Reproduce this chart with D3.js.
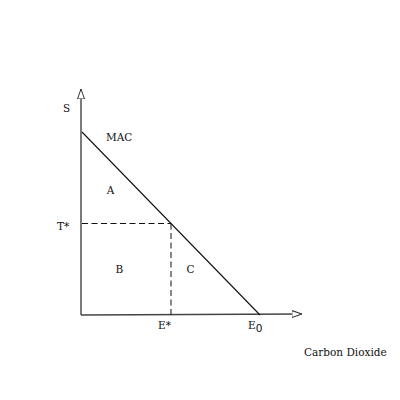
<!DOCTYPE html>
<html><head><meta charset="utf-8">
<script src="https://cdn.jsdelivr.net/npm/d3@7"></script>
<style>body{margin:0;background:#fff}text{font-family:"DejaVu Serif",serif;font-size:10.5px;fill:#111}</style>
</head><body><svg id="c" width="400" height="400"></svg>
<script>
const macPoints = [{q:0, s:100}, {q:100, s:0}];
const axisMax = 123.5;
const tStar = 50, eStar = 50, e0 = 100;
const axisLabels = {y:"S", x:"Carbon Dioxide", curve:"MAC"};
const areaLabels = [{t:"A", q:16, s:66}, {t:"B", q:21, s:23}, {t:"C", q:61, s:23}];

const svg = d3.select("#c");
const x = d3.scaleLinear().domain([0, 100]).range([82, 260]);
const y = d3.scaleLinear().domain([0, 100]).range([315, 132]);

const defs = svg.append("defs");
defs.append("marker").attr("id","arr").attr("viewBox","0 0 10 10").attr("refX",10).attr("refY",5)
  .attr("markerWidth",10).attr("markerHeight",10).attr("markerUnits","userSpaceOnUse").attr("orient","auto")
  .append("path").attr("d","M0,1.5 L10,5 L0,8.5 Z").attr("fill","#fff").attr("stroke","#333").attr("stroke-width",1);

// axes
svg.append("line").attr("x1",x(0)-1).attr("y1",y(0)).attr("x2",x(0)-1).attr("y2",y(axisMax))
  .attr("stroke","#444").attr("stroke-width",1.4).attr("marker-end","url(#arr)");
svg.append("line").attr("x1",x(0)-1).attr("y1",y(0)).attr("x2",x(axisMax)).attr("y2",y(0)-1)
  .attr("stroke","#444").attr("stroke-width",1.4).attr("marker-end","url(#arr)");

// MAC line
const line = d3.line().x(d=>x(d.q)).y(d=>y(d.s));
svg.append("path").datum(macPoints).attr("d",line).attr("fill","none").attr("stroke","#111").attr("stroke-width",1.1);

// dashed
svg.append("line").attr("x1",x(0)).attr("y1",y(tStar)).attr("x2",x(eStar)).attr("y2",y(tStar))
  .attr("stroke","#111").attr("stroke-dasharray","6,3.5");
svg.append("line").attr("x1",x(eStar)).attr("y1",y(tStar)).attr("x2",x(eStar)).attr("y2",y(0))
  .attr("stroke","#111").attr("stroke-dasharray","6,3.5");

// labels
svg.append("text").attr("x",63).attr("y",112).text(axisLabels.y);
svg.append("text").attr("x",106).attr("y",141).text(axisLabels.curve);
svg.append("text").attr("x",57).attr("y",230).text("T*");
svg.append("text").attr("x",x(eStar)-13).attr("y",329).text("E*");
const e0t = svg.append("text").attr("x",x(e0)-12).attr("y",329).text("E");
e0t.append("tspan").attr("dy",3).attr("style","font-family:'DejaVu Sans',sans-serif").text("0");
svg.append("text").attr("x",304).attr("y",356).text(axisLabels.x);
areaLabels.forEach(d=>svg.append("text").attr("x",x(d.q)).attr("y",y(d.s)).attr("text-anchor","middle").text(d.t));
</script></body></html>
